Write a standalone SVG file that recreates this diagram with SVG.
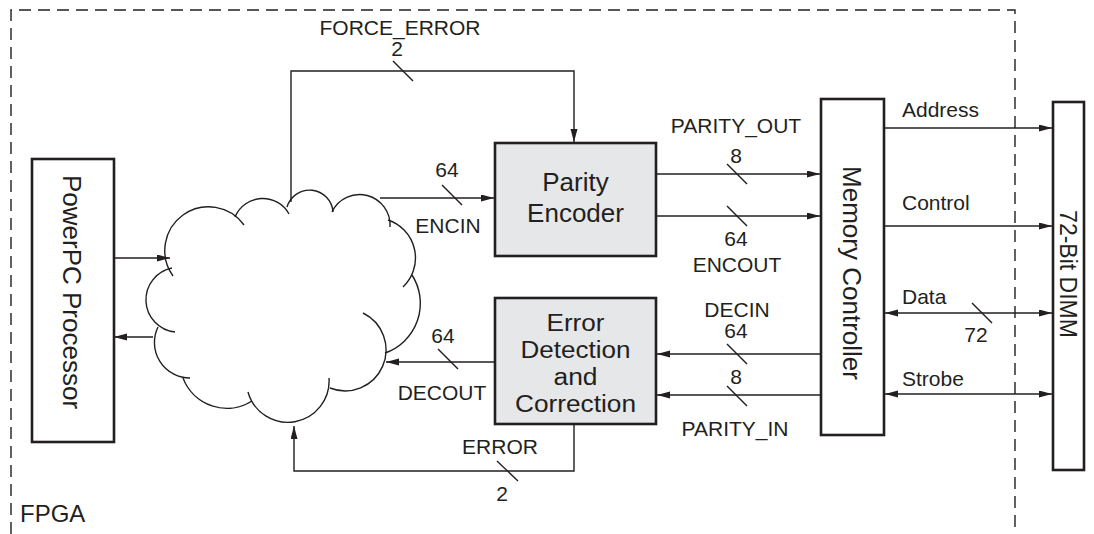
<svg xmlns="http://www.w3.org/2000/svg" width="1094" height="534" viewBox="0 0 1094 534">
<style>
.lbl{font-family:"Liberation Sans",Arial,sans-serif;font-size:21px;fill:#231f20}
.nd{font-family:"Liberation Sans",Arial,sans-serif;font-size:26px;fill:#231f20;text-anchor:middle}
.nds{font-size:23px}
.box{fill:#ffffff;stroke:#231f20;stroke-width:2.6}
.gbox{fill:#e6e7e8;stroke:#231f20;stroke-width:2.6}
.ln{fill:none;stroke:#231f20;stroke-width:1.4}
.ar{fill:none;stroke:#231f20;stroke-width:1.4;marker-end:url(#ah)}
.da{fill:none;stroke:#231f20;stroke-width:1.4;marker-end:url(#ah);marker-start:url(#ahs)}
.mid{text-anchor:middle}
</style>
<defs>
<marker id="ah" markerUnits="userSpaceOnUse" markerWidth="14" markerHeight="8" refX="13" refY="3.5" orient="auto"><path d="M0,0 L13,3.5 L0,7 z" fill="#231f20"/></marker>
<marker id="ahs" markerUnits="userSpaceOnUse" markerWidth="14" markerHeight="8" refX="13" refY="3.5" orient="auto-start-reverse"><path d="M0,0 L13,3.5 L0,7 z" fill="#231f20"/></marker>
</defs>
<rect width="1094" height="534" fill="#ffffff"/>

<g id="fpga">
<path d="M11,534 V10 H1015 V534" fill="none" stroke="#231f20" stroke-width="1.4" stroke-dasharray="12,7"/>
<text class="lbl" x="20" y="522" style="font-size:24px">FPGA</text>
</g>

<g id="powerpc">
<rect class="box" x="32" y="159" width="82" height="283"/>
<text class="nd" transform="translate(63,292) rotate(90)">PowerPC Processor</text>
</g>

<g id="cloud" fill="none" stroke="#231f20" stroke-width="1.4">
<path d="M173,276 A42,42 0 0 1 244,225"/>
<path d="M235,217 A30,30 0 0 1 289,214"/>
<path d="M287,207 A23.5,23.5 0 0 1 333,212"/>
<path d="M332,212 A30.5,30.5 0 0 1 390,227"/>
<path d="M388,220 A40,40 0 0 1 403,287"/>
<path d="M412,275 A52.5,52.5 0 0 1 385,353"/>
<path d="M363,313 A41,41 0 0 1 330,388"/>
<path d="M329,378 A41.3,41.3 0 0 1 248,392"/>
<path d="M252,401 A47,47 0 0 1 183,378"/>
<path d="M190,378 A35.5,35.5 0 0 1 158,327"/>
<path d="M175,332 A32.4,32.4 0 0 1 172,268"/>
</g>

<g id="parity-encoder">
<rect class="gbox" x="495" y="143" width="161" height="113"/>
<text class="nd" x="575.5" y="191">Parity</text>
<text class="nd" x="575.5" y="222">Encoder</text>
</g>

<g id="edc">
<rect class="gbox" x="495" y="298" width="161" height="126"/>
<text class="nd nds" x="575.5" y="331" textLength="58" lengthAdjust="spacingAndGlyphs">Error</text>
<text class="nd nds" x="575.5" y="358" textLength="110" lengthAdjust="spacingAndGlyphs">Detection</text>
<text class="nd nds" x="575.5" y="385" textLength="44" lengthAdjust="spacingAndGlyphs">and</text>
<text class="nd nds" x="575.5" y="412" textLength="121" lengthAdjust="spacingAndGlyphs">Correction</text>
</g>

<g id="memory-controller">
<rect class="box" x="821" y="99" width="63" height="336"/>
<text class="nd" transform="translate(843,273) rotate(90)">Memory Controller</text>
</g>

<g id="dimm">
<rect class="box" x="1053" y="102" width="31" height="368"/>
<text class="nd nds" transform="translate(1060,274) rotate(90)">72-Bit DIMM</text>
</g>

<g id="connectors">
<path class="ar" d="M114,258 H170"/>
<path class="ar" d="M153,337 H114"/>
<path class="ar" d="M291,202 V71 H574 V142"/>
<path class="ar" d="M380,198 H494"/>
<path class="ar" d="M656,174 H820"/>
<path class="ar" d="M656,216 H820"/>
<path class="ar" d="M821,354 H657"/>
<path class="ar" d="M821,395 H657"/>
<path class="ar" d="M495,362 H386"/>
<path class="ar" d="M574,424 V471 H294 V426"/>
<path class="ar" d="M884,128 H1052"/>
<path class="ar" d="M884,226 H1052"/>
<path class="da" d="M885,313 H1052"/>
<path class="da" d="M885,394 H1052"/>

<path class="ln" d="M393,61 L413,81"/>
<path class="ln" d="M442,185 L462,205"/>
<path class="ln" d="M727,164 L747,184"/>
<path class="ln" d="M727,206 L747,226"/>
<path class="ln" d="M727,344 L747,364"/>
<path class="ln" d="M727,386 L747,406"/>
<path class="ln" d="M438,349 L458,369"/>
<path class="ln" d="M497,461 L518,481"/>
<path class="ln" d="M972,303 L992,323"/>

<text class="lbl mid" x="400" y="35">FORCE_ERROR</text>
<text class="lbl mid" x="397" y="56">2</text>
<text class="lbl mid" x="447" y="177">64</text>
<text class="lbl mid" x="448" y="233">ENCIN</text>
<text class="lbl mid" x="736" y="133">PARITY_OUT</text>
<text class="lbl mid" x="736" y="163">8</text>
<text class="lbl mid" x="736" y="246">64</text>
<text class="lbl mid" x="737" y="272">ENCOUT</text>
<text class="lbl mid" x="737" y="317">DECIN</text>
<text class="lbl mid" x="736" y="338">64</text>
<text class="lbl mid" x="736" y="384">8</text>
<text class="lbl mid" x="735" y="436">PARITY_IN</text>
<text class="lbl mid" x="443" y="343">64</text>
<text class="lbl mid" x="442" y="400">DECOUT</text>
<text class="lbl mid" x="500" y="454">ERROR</text>
<text class="lbl mid" x="502" y="501">2</text>
<text class="lbl" x="902" y="117">Address</text>
<text class="lbl" x="902" y="210">Control</text>
<text class="lbl" x="902" y="304">Data</text>
<text class="lbl mid" x="976" y="342">72</text>
<text class="lbl" x="902" y="386">Strobe</text>
</g>
</svg>
